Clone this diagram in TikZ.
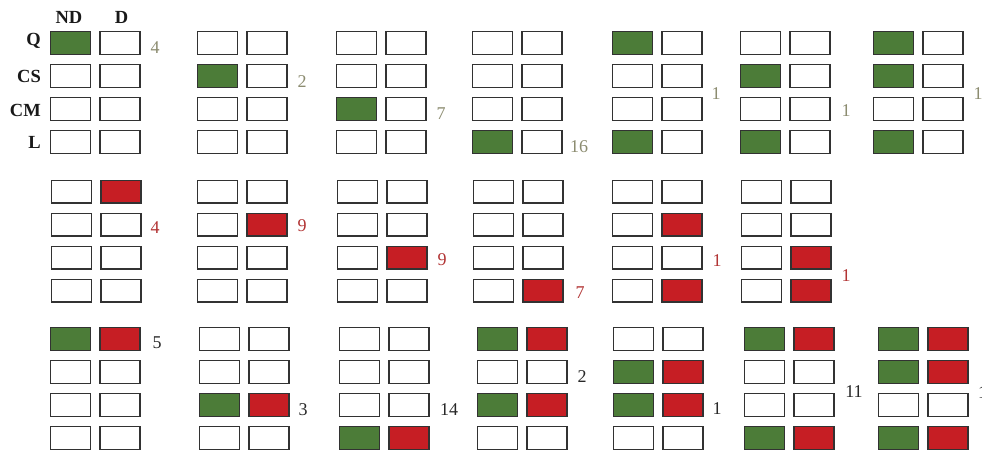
\documentclass[tikz,border=0pt]{standalone}
\usepackage{fontspec}
\setmainfont{Liberation Serif}
\definecolor{cgreen}{RGB}{76,124,56}
\definecolor{cred}{RGB}{198,30,36}
\definecolor{nolive}{RGB}{140,140,112}
\definecolor{nred}{RGB}{178,52,52}
\definecolor{ndark}{RGB}{40,40,40}
\definecolor{edge}{RGB}{50,50,50}
\tikzset{
  cell/.style={draw=edge, line width=1.4pt, minimum width=40pt, minimum height=22.6pt, inner sep=0pt, outer sep=0pt},
  cw/.style={fill=white},
  cg/.style={fill=cgreen},
  cr/.style={fill=cred},
  num/.style={font=\fontsize{18}{20}\selectfont, inner sep=0pt, text height=12pt, text depth=0pt},
  numA/.style={num, text=nolive},
  numB/.style={num, text=nred},
  numC/.style={num, text=ndark},
  hdr/.style={font=\fontsize{18.5}{21}\selectfont\bfseries, inner sep=0pt, text height=12pt, text depth=0pt, text=black!90},
}
\newcommand\grp[5]{%
  \foreach \s [count=\i] in {#4}
    \node[cell,\s] (#1n\i) at ({#2+20.5},{#3+12+33*(\i-1)}) {};
  \foreach \s [count=\i] in {#5}
    \node[cell,\s] (#1d\i) at ({#2+70},{#3+12+33*(\i-1)}) {};
}
\begin{document}
\begin{tikzpicture}[x=1pt,y=-1pt]
\useasboundingbox[fill=white] (0,0) rectangle (982,455);
% headers
\node[hdr] (hND) at (69,17.5) {ND};
\node[hdr] (hD) at (121.5,17.5) {D};
\node[hdr, anchor=east] (hQ) at (41,39) {Q};
\node[hdr, anchor=east] (hCS) at (41,76.5) {CS};
\node[hdr, anchor=east] (hCM) at (41,110) {CM};
\node[hdr, anchor=east] (hL) at (41,142) {L};
% row 1
\grp{a1}{50}{31}{cg,cw,cw,cw}{cw,cw,cw,cw}
\grp{a2}{197}{31}{cw,cg,cw,cw}{cw,cw,cw,cw}
\grp{a3}{336}{31}{cw,cw,cg,cw}{cw,cw,cw,cw}
\grp{a4}{472}{31}{cw,cw,cw,cg}{cw,cw,cw,cw}
\grp{a5}{612}{31}{cg,cw,cw,cg}{cw,cw,cw,cw}
\grp{a6}{740}{31}{cw,cg,cw,cg}{cw,cw,cw,cw}
\grp{a7}{873}{31}{cg,cg,cw,cg}{cw,cw,cw,cw}
% row 2
\grp{b1}{51}{179.5}{cw,cw,cw,cw}{cr,cw,cw,cw}
\grp{b2}{197}{179.5}{cw,cw,cw,cw}{cw,cr,cw,cw}
\grp{b3}{337}{179.5}{cw,cw,cw,cw}{cw,cw,cr,cw}
\grp{b4}{473}{179.5}{cw,cw,cw,cw}{cw,cw,cw,cr}
\grp{b5}{612}{179.5}{cw,cw,cw,cw}{cw,cr,cw,cr}
\grp{b6}{741}{179.5}{cw,cw,cw,cw}{cw,cw,cr,cr}
% row 3
\grp{c1}{50}{327}{cg,cw,cw,cw}{cr,cw,cw,cw}
\grp{c2}{199}{327}{cw,cw,cg,cw}{cw,cw,cr,cw}
\grp{c3}{339}{327}{cw,cw,cw,cg}{cw,cw,cw,cr}
\grp{c4}{477}{327}{cg,cw,cg,cw}{cr,cw,cr,cw}
\grp{c5}{613}{327}{cw,cg,cg,cw}{cw,cr,cr,cw}
\grp{c6}{744}{327}{cg,cw,cw,cg}{cr,cw,cw,cr}
\grp{c7}{878}{327}{cg,cg,cw,cg}{cr,cr,cw,cr}
% counts row 1
\node[numA] (na1) at (155,47) {4};
\node[numA] (na2) at (302,81) {2};
\node[numA] (na3) at (441,113) {7};
\node[numA] (na4) at (579,146) {16};
\node[numA] (na5) at (716,93) {1};
\node[numA] (na6) at (846,110) {1};
\node[numA] (na7) at (978,93) {1};
% counts row 2
\node[numB] (nb1) at (155,227) {4};
\node[numB] (nb2) at (302,225) {9};
\node[numB] (nb3) at (442,259) {9};
\node[numB] (nb4) at (580,292) {7};
\node[numB] (nb5) at (717,260) {1};
\node[numB] (nb6) at (846,275) {1};
% counts row 3
\node[numC] (nc1) at (157,342) {5};
\node[numC] (nc2) at (303,409) {3};
\node[numC] (nc3) at (449,409) {14};
\node[numC] (nc4) at (582,376) {2};
\node[numC] (nc5) at (717,408) {1};
\node[numC] (nc6) at (854,391) {11};
\node[numC, anchor=west] (nc7) at (978,392) {1};
\end{tikzpicture}
\end{document}
